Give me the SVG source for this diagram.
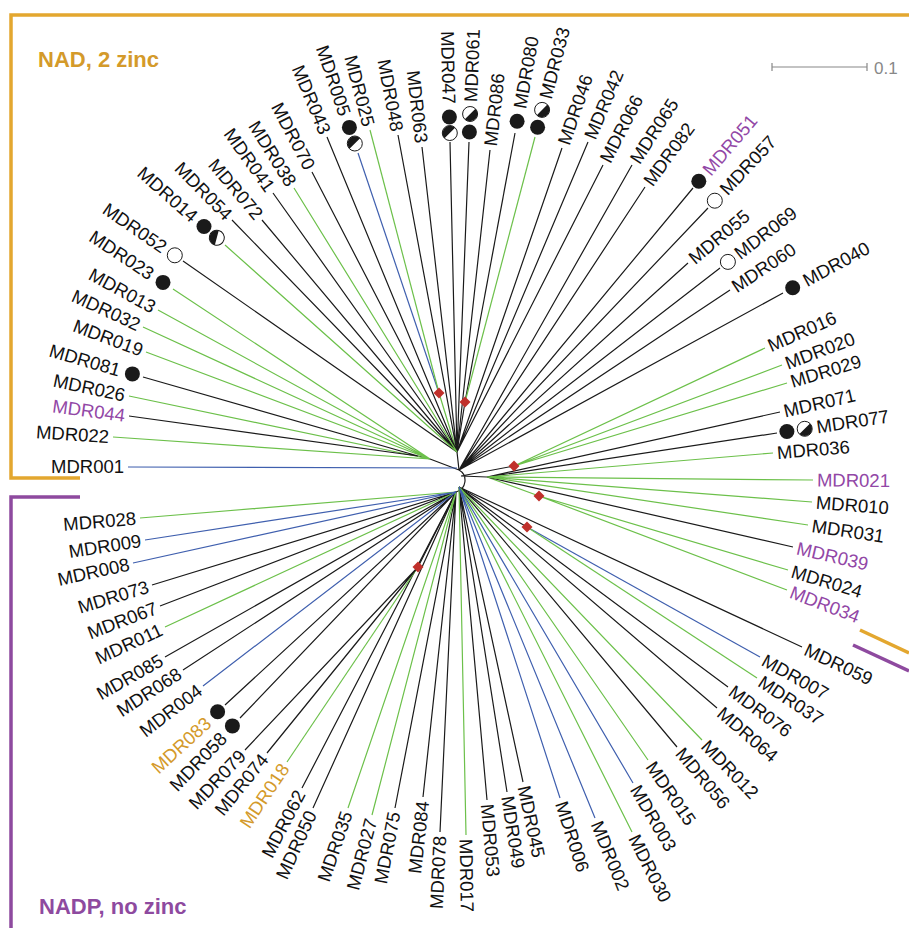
<svg xmlns="http://www.w3.org/2000/svg" xmlns:xlink="http://www.w3.org/1999/xlink" width="909" height="928" viewBox="0 0 909 928">
<style>
text{font-family:"Liberation Sans",Arial,sans-serif;font-size:18.5px;fill:#111}
.r{text-anchor:start}
.l{text-anchor:end}
.pu{fill:#9247a6}
.or{fill:#d49a2a}
.k{stroke:#1a1a1a;stroke-width:1.2;fill:none}
.g{stroke:#6cc04a;stroke-width:1.2;fill:none}
.b{stroke:#3f5fae;stroke-width:1.2;fill:none}
.f{fill:#1a1a1a}
.o{fill:#fff;stroke:#1a1a1a;stroke-width:1}
.dia{fill:#c0302b}
.hd{font-weight:bold;font-size:22px}
</style>
<defs>
<g id="hUL"><circle r="7.5" class="o"/><path d="M5.3,-5.3A7.5,7.5 0 0 0 -5.3,5.3Z" class="f"/></g>
<g id="hLR"><circle r="7.5" class="o"/><path d="M5.3,-5.3A7.5,7.5 0 0 1 -5.3,5.3Z" class="f"/></g>
<path id="dm" d="M0,-5.5L5.5,0L0,5.5L-5.5,0Z" class="dia"/>
</defs>
<rect width="909" height="928" fill="#fff"/>

<g id="frames">
<path d="M909,15H11V478H80" fill="none" stroke="#e3a72f" stroke-width="3.5"/>
<path d="M80,497H11V928" fill="none" stroke="#8e4a9f" stroke-width="3.5"/>
<path d="M860,630L909,653" stroke="#e3a72f" stroke-width="3.5"/>
<path d="M853,645L909,671" stroke="#8e4a9f" stroke-width="3.5"/>
<text x="38" y="67" class="hd" style="fill:#d49a2a">NAD, 2 zinc</text>
<text x="39" y="914" class="hd" style="fill:#8e4a9f">NADP, no zinc</text>
</g>

<g id="scale">
<path d="M772,67H867M772,63V71M867,63V71" stroke="#888" stroke-width="1.2" fill="none"/>
<text x="874" y="74" style="fill:#888;font-size:17px">0.1</text>
</g>

<g id="connectors">
<path class="k" d="M457,452L459,470M430,459L459,470M418,456L430,459M465,402L457,452M459,470A12,12 0 0 1 456,492M461,476L514,466M461,476L487,477M459,487L527,527M456,492L418,567"/>
<path class="g" d="M439,393L457,452M487,477L539,496"/>
<path class="b" d="M457,468L128,467"/>
<!-- left cluster -->
<path class="g" d="M430,459L113,437M430,459L129,396M430,459L146,352M430,459L143,327M430,459L158,310M430,459L173,289"/>
<path class="k" d="M418,456L129,416M418,456L143,377"/>
<!-- top cluster T -->
<path class="k" d="M457,452L183,261M457,452L232,220M457,452L262,220M457,452L273,193M457,452L312,172M457,452L327,137M457,452L398,135M457,452L422,147M457,452L450,142M457,452L469,142M457,452L490,150M457,452L562,148M457,452L588,142M457,452L603,165"/>
<path class="g" d="M457,452L225,245M457,452L294,188"/>
<path class="b" d="M439,393L358,153"/>
<path class="g" d="M439,393L370,130"/>
<path class="k" d="M465,402L515,133"/>
<path class="g" d="M465,402L535,137"/>
<!-- upper right from A -->
<path class="k" d="M459,470L632,165M459,470L645,187M459,470L693,188M459,470L708,208M459,470L688,263M459,470L720,268M459,470L730,290M459,470L783,293"/>
<path class="g" d="M514,466L765,348M514,466L782,365M514,466L787,383"/>
<path class="k" d="M487,477L780,412M487,477L777,433M487,477L793,547"/>
<path class="g" d="M487,477L773,453M487,477L813,480M487,477L812,502M487,477L808,525"/>
<path class="g" d="M539,496L788,570M539,496L787,590"/>
<!-- lower right -->
<path class="k" d="M459,487L802,647M459,487L728,687M459,487L717,708M459,487L677,747M459,487L523,782M459,487L507,792M459,487L487,800"/>
<path class="g" d="M459,487L702,740M459,487L648,760M459,487L632,832M459,487L466,835"/>
<path class="b" d="M459,487L633,783M459,487L595,818M459,487L560,798"/>
<path class="b" d="M527,527L760,657"/>
<path class="g" d="M527,527L757,678"/>
<!-- lower left -->
<path class="k" d="M456,492L440,832M456,492L423,797M456,492L395,808M456,492L313,808M456,492L302,788M456,492L240,718M456,492L225,705M456,492L183,670M456,492L165,657M456,492L160,606M456,492L152,585"/>
<path class="g" d="M456,492L372,815M456,492L348,808M456,492L165,627M456,492L140,518"/>
<path class="b" d="M456,492L203,686M456,492L133,563M456,492L145,540"/>
<path class="g" d="M418,567L287,762"/>
<path class="k" d="M418,567L267,753M418,567L245,750"/>
</g>

<g id="diamonds">
<use xlink:href="#dm" href="#dm" transform="translate(439,393)"/>
<use xlink:href="#dm" href="#dm" transform="translate(465,402)"/>
<use xlink:href="#dm" href="#dm" transform="translate(514,466)"/>
<use xlink:href="#dm" href="#dm" transform="translate(539,496)"/>
<use xlink:href="#dm" href="#dm" transform="translate(527,527)"/>
<use xlink:href="#dm" href="#dm" transform="translate(418,567)"/>
</g>

<g id="MDR001"><text class="l" dy="0.35em" transform="translate(124,467)">MDR001</text></g>
<g id="MDR022"><text class="l" dy="0.35em" transform="translate(109,436.7) rotate(3.8)">MDR022</text></g>
<g id="MDR044"><text class="l pu" dy="0.35em" transform="translate(125,415.5) rotate(7.7)">MDR044</text></g>
<g id="MDR026"><text class="l" dy="0.35em" transform="translate(125,395.2) rotate(11.8)">MDR026</text></g>
<g id="MDR081"><circle class="f" cx="132.4" cy="373.9" r="7.5"/><text class="l" dy="0.35em" transform="translate(120,370.3) rotate(16.2)">MDR081</text></g>
<g id="MDR019"><text class="l" dy="0.35em" transform="translate(142.3,350.6) rotate(20.6)">MDR019</text></g>
<g id="MDR032"><text class="l" dy="0.35em" transform="translate(139.4,325.3) rotate(24.7)">MDR032</text></g>
<g id="MDR013"><text class="l" dy="0.35em" transform="translate(154.5,308.1) rotate(28.7)">MDR013</text></g>
<g id="MDR023"><circle class="f" cx="163" cy="282.4" r="7.5"/><text class="l" dy="0.35em" transform="translate(152.2,275.2) rotate(33.5)">MDR023</text></g>
<g id="MDR052"><circle class="o" cx="174.8" cy="255.3" r="7.5"/><text class="l" dy="0.35em" transform="translate(164.9,248.5) rotate(34.6)">MDR052</text></g>
<g id="MDR014"><use xlink:href="#hUL" href="#hUL" transform="translate(216.8,237.7) rotate(-30)"/><circle class="f" cx="204" cy="226.5" r="7.5"/><text class="l" dy="0.35em" transform="translate(195,218.5) rotate(41.5)">MDR014</text></g>
<g id="MDR054"><text class="l" dy="0.35em" transform="translate(229.2,217.1) rotate(45.6)">MDR054</text></g>
<g id="MDR072"><text class="l" dy="0.35em" transform="translate(259.4,216.9) rotate(49.7)">MDR072</text></g>
<g id="MDR041"><text class="l" dy="0.35em" transform="translate(270.7,189.7) rotate(54.4)">MDR041</text></g>
<g id="MDR038"><text class="l" dy="0.35em" transform="translate(291.9,184.6) rotate(58.1)">MDR038</text></g>
<g id="MDR070"><text class="l" dy="0.35em" transform="translate(310.2,168.5) rotate(62.5)">MDR070</text></g>
<g id="MDR043"><text class="l" dy="0.35em" transform="translate(325.5,133.3) rotate(67.4)">MDR043</text></g>
<g id="MDR005"><use xlink:href="#hUL" href="#hUL" transform="translate(354.8,143.5)"/><circle class="f" cx="349.4" cy="127.4" r="7.5"/><text class="l" dy="0.35em" transform="translate(345.2,115.1) rotate(71.4)">MDR005</text></g>
<g id="MDR025"><text class="l" dy="0.35em" transform="translate(369,126.1) rotate(75.3)">MDR025</text></g>
<g id="MDR048"><text class="l" dy="0.35em" transform="translate(397.3,131.1) rotate(79.4)">MDR048</text></g>
<g id="MDR063"><text class="l" dy="0.35em" transform="translate(421.5,143) rotate(83.4)">MDR063</text></g>
<g id="MDR047"><use xlink:href="#hUL" href="#hUL" transform="translate(449.8,133)"/><circle class="f" cx="449.4" cy="117" r="7.5"/><text class="l" dy="0.35em" transform="translate(449.1,104) rotate(88.7)">MDR047</text></g>
<g id="MDR061"><circle class="f" cx="469.4" cy="132" r="7.5"/><use xlink:href="#hLR" href="#hLR" transform="translate(470.1,114)"/><text class="r" dy="0.35em" transform="translate(470.6,102) rotate(-87.8)">MDR061</text></g>
<g id="MDR086"><text class="r" dy="0.35em" transform="translate(490.4,146) rotate(-83.8)">MDR086</text></g>
<g id="MDR080"><circle class="f" cx="517.1" cy="121.2" r="7.5"/><text class="r" dy="0.35em" transform="translate(519.5,108.4) rotate(-79.7)">MDR080</text></g>
<g id="MDR033"><circle class="f" cx="537.6" cy="127.3" r="7.5"/><use xlink:href="#hLR" href="#hLR" transform="translate(542.1,109.9)"/><text class="r" dy="0.35em" transform="translate(545.2,98.3) rotate(-75.2)">MDR033</text></g>
<g id="MDR046"><text class="r" dy="0.35em" transform="translate(563.3,144.2) rotate(-71)">MDR046</text></g>
<g id="MDR042"><text class="r" dy="0.35em" transform="translate(589.6,138.3) rotate(-67.1)">MDR042</text></g>
<g id="MDR066"><text class="r" dy="0.35em" transform="translate(604.8,161.4) rotate(-63)">MDR066</text></g>
<g id="MDR065"><text class="r" dy="0.35em" transform="translate(634.2,161.6) rotate(-57)">MDR065</text></g>
<g id="MDR082"><text class="r" dy="0.35em" transform="translate(647.4,183.8) rotate(-54)">MDR082</text></g>
<g id="MDR051"><circle class="f" cx="698.8" cy="181.2" r="7.5"/><text class="r pu" dy="0.35em" transform="translate(706,172.8) rotate(-49.5)">MDR051</text></g>
<g id="MDR057"><circle class="o" cx="714.8" cy="200.7" r="7.5"/><text class="r" dy="0.35em" transform="translate(723,191.9) rotate(-47)">MDR057</text></g>
<g id="MDR055"><text class="r" dy="0.35em" transform="translate(691.1,260.4) rotate(-40)">MDR055</text></g>
<g id="MDR069"><circle class="o" cx="727.9" cy="261.9" r="7.5"/><text class="r" dy="0.35em" transform="translate(736.6,255.1) rotate(-37.7)">MDR069</text></g>
<g id="MDR060"><text class="r" dy="0.35em" transform="translate(733.3,287.8) rotate(-33.6)">MDR060</text></g>
<g id="MDR040"><circle class="f" cx="792.7" cy="287.7" r="7.5"/><text class="r" dy="0.35em" transform="translate(804.1,281.5) rotate(-28.6)">MDR040</text></g>
<g id="MDR016"><text class="r" dy="0.35em" transform="translate(768.7,346.4) rotate(-24)">MDR016</text></g>
<g id="MDR020"><text class="r" dy="0.35em" transform="translate(785.7,363.6) rotate(-20.6)">MDR020</text></g>
<g id="MDR029"><text class="r" dy="0.35em" transform="translate(790.8,381.8) rotate(-16.9)">MDR029</text></g>
<g id="MDR071"><text class="r" dy="0.35em" transform="translate(783.9,411.1) rotate(-13)">MDR071</text></g>
<g id="MDR077"><circle class="f" cx="786.9" cy="431.5" r="7.5"/><use xlink:href="#hLR" href="#hLR" transform="translate(804.7,428.8)"/><text class="r" dy="0.35em" transform="translate(816.6,427) rotate(-8.6)">MDR077</text></g>
<g id="MDR036"><text class="r" dy="0.35em" transform="translate(777,452.7) rotate(-4.8)">MDR036</text></g>
<g id="MDR021"><text class="r pu" dy="0.35em" transform="translate(817,480) rotate(0.5)">MDR021</text></g>
<g id="MDR010"><text class="r" dy="0.35em" transform="translate(816,502.3) rotate(4.4)">MDR010</text></g>
<g id="MDR031"><text class="r" dy="0.35em" transform="translate(812,525.6) rotate(8.5)">MDR031</text></g>
<g id="MDR039"><text class="r pu" dy="0.35em" transform="translate(796.9,547.9) rotate(12.9)">MDR039</text></g>
<g id="MDR024"><text class="r" dy="0.35em" transform="translate(791.8,571.1) rotate(16.6)">MDR024</text></g>
<g id="MDR034"><text class="r pu" dy="0.35em" transform="translate(790.7,591.4) rotate(20.8)">MDR034</text></g>
<g id="MDR059"><text class="r" dy="0.35em" transform="translate(805.6,648.7) rotate(25.2)">MDR059</text></g>
<g id="MDR007"><text class="r" dy="0.35em" transform="translate(763.5,659) rotate(29.2)">MDR007</text></g>
<g id="MDR037"><text class="r" dy="0.35em" transform="translate(760.3,680.2) rotate(33.3)">MDR037</text></g>
<g id="MDR076"><text class="r" dy="0.35em" transform="translate(731.2,689.4) rotate(36.7)">MDR076</text></g>
<g id="MDR064"><text class="r" dy="0.35em" transform="translate(720,710.6) rotate(40.7)">MDR064</text></g>
<g id="MDR012"><text class="r" dy="0.35em" transform="translate(704.8,742.9) rotate(46.3)">MDR012</text></g>
<g id="MDR056"><text class="r" dy="0.35em" transform="translate(679.6,750.1) rotate(50.2)">MDR056</text></g>
<g id="MDR015"><text class="r" dy="0.35em" transform="translate(650.3,763.3) rotate(55.4)">MDR015</text></g>
<g id="MDR003"><text class="r" dy="0.35em" transform="translate(635,786.5) rotate(59.7)">MDR003</text></g>
<g id="MDR030"><text class="r" dy="0.35em" transform="translate(633.8,835.6) rotate(63.5)">MDR030</text></g>
<g id="MDR002"><text class="r" dy="0.35em" transform="translate(596.5,821.7) rotate(67.8)">MDR002</text></g>
<g id="MDR006"><text class="r" dy="0.35em" transform="translate(561.2,801.8) rotate(72.2)">MDR006</text></g>
<g id="MDR045"><text class="r" dy="0.35em" transform="translate(523.8,785.9) rotate(78)">MDR045</text></g>
<g id="MDR049"><text class="r" dy="0.35em" transform="translate(507.6,796) rotate(81.2)">MDR049</text></g>
<g id="MDR053"><text class="r" dy="0.35em" transform="translate(487.3,804) rotate(85)">MDR053</text></g>
<g id="MDR017"><text class="r" dy="0.35em" transform="translate(466.1,839) rotate(89)">MDR017</text></g>
<g id="MDR078"><text class="l" dy="0.35em" transform="translate(439.8,836) rotate(-87.2)">MDR078</text></g>
<g id="MDR084"><text class="l" dy="0.35em" transform="translate(422.6,801) rotate(-83.7)">MDR084</text></g>
<g id="MDR075"><text class="l" dy="0.35em" transform="translate(394.2,811.9) rotate(-79)">MDR075</text></g>
<g id="MDR027"><text class="l" dy="0.35em" transform="translate(371,818.9) rotate(-75.3)">MDR027</text></g>
<g id="MDR035"><text class="l" dy="0.35em" transform="translate(346.7,811.8) rotate(-71.1)">MDR035</text></g>
<g id="MDR050"><text class="l" dy="0.35em" transform="translate(311.3,811.6) rotate(-65.6)">MDR050</text></g>
<g id="MDR062"><text class="l" dy="0.35em" transform="translate(300.2,791.5) rotate(-62.5)">MDR062</text></g>
<g id="MDR018"><text class="l or" dy="0.35em" transform="translate(284.8,765.3) rotate(-56.1)">MDR018</text></g>
<g id="MDR074"><text class="l" dy="0.35em" transform="translate(264.5,756.1) rotate(-51)">MDR074</text></g>
<g id="MDR079"><text class="l" dy="0.35em" transform="translate(242.3,752.9) rotate(-46.6)">MDR079</text></g>
<g id="MDR058"><circle class="f" cx="232.4" cy="725.9" r="7.5"/><text class="l" dy="0.35em" transform="translate(223.4,735.3) rotate(-46.2)">MDR058</text></g>
<g id="MDR083"><circle class="f" cx="217.6" cy="711.8" r="7.5"/><text class="l or" dy="0.35em" transform="translate(208.1,720.6) rotate(-42.6)">MDR083</text></g>
<g id="MDR004"><text class="l" dy="0.35em" transform="translate(199.8,688.4) rotate(-37.4)">MDR004</text></g>
<g id="MDR068"><text class="l" dy="0.35em" transform="translate(179.6,672.2) rotate(-33)">MDR068</text></g>
<g id="MDR085"><text class="l" dy="0.35em" transform="translate(161.5,659) rotate(-29.5)">MDR085</text></g>
<g id="MDR011"><text class="l" dy="0.35em" transform="translate(161.4,628.7) rotate(-24.8)">MDR011</text></g>
<g id="MDR067"><text class="l" dy="0.35em" transform="translate(156.3,607.4) rotate(-21)">MDR067</text></g>
<g id="MDR073"><text class="l" dy="0.35em" transform="translate(148.2,586.2) rotate(-17)">MDR073</text></g>
<g id="MDR008"><text class="l" dy="0.35em" transform="translate(129.1,563.9) rotate(-12.4)">MDR008</text></g>
<g id="MDR009"><text class="l" dy="0.35em" transform="translate(141,540.6) rotate(-8.7)">MDR009</text></g>
<g id="MDR028"><text class="l" dy="0.35em" transform="translate(136,518.3) rotate(-4.7)">MDR028</text></g>
</svg>
